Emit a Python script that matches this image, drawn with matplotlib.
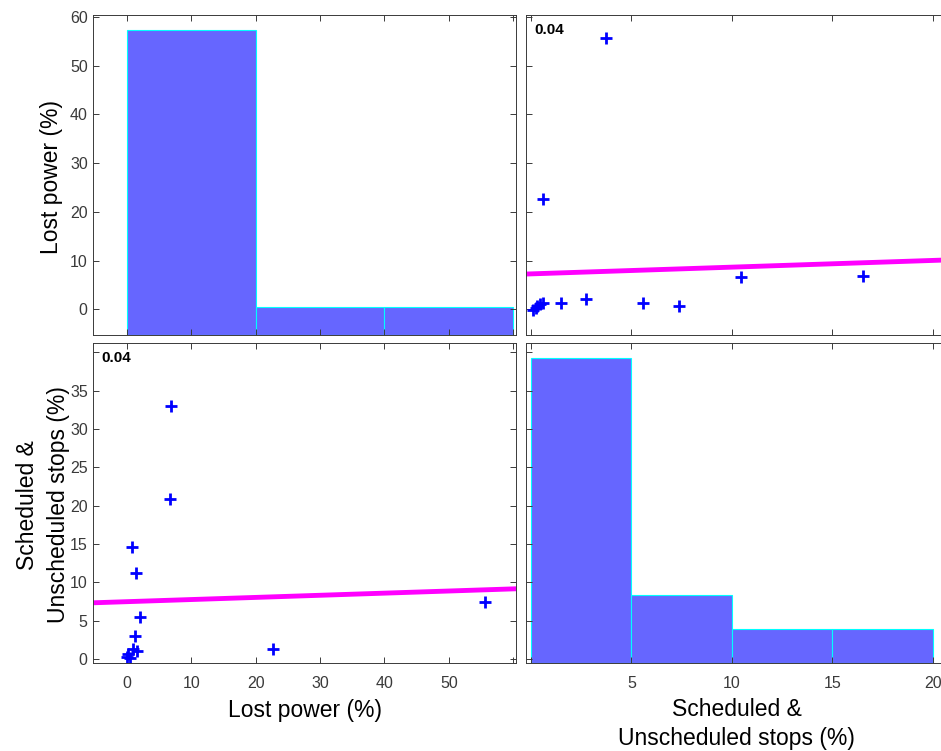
import numpy as np
import matplotlib
matplotlib.use("Agg")
import matplotlib.pyplot as plt

plt.rcParams['font.family'] = ['Liberation Sans', 'DejaVu Sans']

# variable names
lost_label = "Lost power (%)"
stops_label = "Scheduled &\nUnscheduled stops (%)"

# diagonal histograms (bin edges and counts)
lost_edges = [0, 20, 40, 60]
lost_counts = [11, 1, 1]
stops_edges = [0, 5, 10, 15, 20]
stops_counts = [9, 2, 1, 1]

# top-right panel: x = stops, y = lost power
tr_stops = [0.08, 0.25, 0.3, 0.45, 0.6, 0.61, 1.48, 2.74, 3.72, 5.6, 7.38, 10.46, 16.5]
tr_lost = [-0.05, 0.3, 0.7, 1.1, 1.4, 22.7, 1.23, 2.13, 55.6, 1.37, 0.76, 6.64, 6.9]
tr_fit = (7.29, 0.138)   # intercept, slope

# bottom-left panel: x = lost power, y = stops
bl_lost = [0.0, 0.2, 0.4, 0.9, 1.5, 1.3, 1.97, 1.4, 0.72, 6.6, 6.85, 22.7, 55.7]
bl_stops = [0.3, 0.6, 0.2, 1.26, 1.04, 2.95, 5.47, 11.25, 14.56, 20.9, 33.0, 1.26, 7.39]
bl_fit = (7.49, 0.0278)

corr_text = "0.04"

lost_lim = (-5.25, 60.4)
stops_x_lim = (-0.26, 20.75)
stops_y_lim = (-0.55, 41.3)

lost_ticks = [0, 10, 20, 30, 40, 50, 60]
lost_x_ticklabels = ['0', '10', '20', '30', '40', '50', '']
lost_y_ticklabels = ['0', '10', '20', '30', '40', '50', '60']
stops_x_ticks = [0, 5, 10, 15, 20]
stops_x_ticklabels = ['', '5', '10', '15', '20']
stops_y_ticks = [0, 5, 10, 15, 20, 25, 30, 35, 40]
stops_y_ticklabels = ['0', '5', '10', '15', '20', '25', '30', '35', '']

W, H = 941, 751
fig = plt.figure(figsize=(W / 100, H / 100), dpi=100)


def px_axes(left, top, right, bottom):
    return fig.add_axes([left / W, 1 - bottom / H, (right - left) / W, (bottom - top) / H])


ax_tl = px_axes(93.3, 15, 515.7, 335)
ax_tr = px_axes(525.7, 15, 948, 335)
ax_bl = px_axes(93.3, 342.5, 515.7, 663.3)
ax_br = px_axes(525.7, 342.5, 948, 663.3)

for ax in [ax_tl, ax_tr, ax_bl, ax_br]:
    ax.tick_params(direction='in', top=True, right=True, length=4, width=0.7,
                   colors='#3a3a3a', labelsize=11.5)
    ax.tick_params(axis='x', pad=9)
    ax.tick_params(axis='y', pad=4)
    for s in ax.spines.values():
        s.set_color('#3a3a3a')
        s.set_linewidth(0.7)


def hist(ax, edges, counts, lim):
    lo, hi = lim
    counts = np.array(counts, dtype=float)
    heights = counts / counts.max() * 0.953 * (hi - lo)
    ax.bar(edges[:-1], heights, width=np.diff(edges), align='edge', bottom=lo,
           color='#6666ff', edgecolor='#00ffff', linewidth=0.8)


# top-left: lost power histogram
hist(ax_tl, lost_edges, lost_counts, lost_lim)
ax_tl.set_xlim(lost_lim)
ax_tl.set_ylim(lost_lim)
ax_tl.set_xticks(lost_ticks)
ax_tl.set_xticklabels([])
ax_tl.set_yticks(lost_ticks)
ax_tl.set_yticklabels(lost_y_ticklabels)

# top-right: scatter
ax_tr.plot(tr_stops, tr_lost, '+', color='blue', ms=8, mew=2, ls='none')
xs = np.array(stops_x_lim)
ax_tr.plot(xs, tr_fit[0] + tr_fit[1] * xs, color='#ff00ff', lw=3.5)
ax_tr.set_xlim(stops_x_lim)
ax_tr.set_ylim(lost_lim)
ax_tr.set_xticks(stops_x_ticks)
ax_tr.set_xticklabels([])
ax_tr.set_yticks(lost_ticks)
ax_tr.set_yticklabels([])
ax_tr.text(0.02, 0.975, corr_text, transform=ax_tr.transAxes, ha='left', va='top',
           fontsize=11, fontweight='bold')

# bottom-left: scatter
ax_bl.plot(bl_lost, bl_stops, '+', color='blue', ms=8, mew=2, ls='none')
xs = np.array(lost_lim)
ax_bl.plot(xs, bl_fit[0] + bl_fit[1] * xs, color='#ff00ff', lw=3.5)
ax_bl.set_xlim(lost_lim)
ax_bl.set_ylim(stops_y_lim)
ax_bl.set_xticks(lost_ticks)
ax_bl.set_xticklabels(lost_x_ticklabels)
ax_bl.set_yticks(stops_y_ticks)
ax_bl.set_yticklabels(stops_y_ticklabels)
ax_bl.text(0.02, 0.975, corr_text, transform=ax_bl.transAxes, ha='left', va='top',
           fontsize=11, fontweight='bold')

# bottom-right: stops histogram
hist(ax_br, stops_edges, stops_counts, stops_y_lim)
ax_br.set_xlim(stops_x_lim)
ax_br.set_ylim(stops_y_lim)
ax_br.set_xticks(stops_x_ticks)
ax_br.set_xticklabels(stops_x_ticklabels)
ax_br.set_yticks(stops_y_ticks)
ax_br.set_yticklabels([])

# variable labels
fig.text(52 / W, 1 - 177 / H, lost_label, rotation=90, ha='center', va='center',
         fontsize=16.5, color='#000000')
fig.text(43 / W, 1 - 505 / H, stops_label, rotation=90, ha='center', va='center',
         fontsize=16.5, color='#000000', multialignment='center', linespacing=1.4)
fig.text(304.5 / W, 1 - 710 / H, lost_label, ha='center', va='center',
         fontsize=16.5, color='#000000')
fig.text(736.5 / W, 1 - 724 / H, stops_label, ha='center', va='center',
         fontsize=16.5, color='#000000', multialignment='center', linespacing=1.35)

fig.savefig("out.png", dpi=100)
